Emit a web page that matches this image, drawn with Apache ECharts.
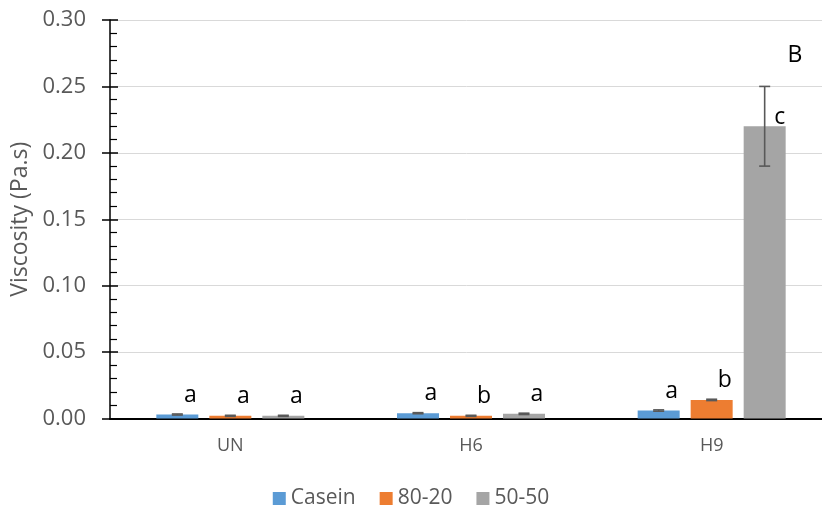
<!DOCTYPE html>
<html>
<head>
<meta charset="utf-8">
<script src="https://cdn.jsdelivr.net/npm/echarts@6/dist/echarts.min.js"></script>
<style>
  html, body { margin: 0; padding: 0; background: #fff; }
  #chart { width: 822px; height: 508px; }
</style>
</head>
<body>
<div id="chart"></div>
<script>
// Viscosity by treatment and protein blend
const categories = ['UN', 'H6', 'H9'];
const seriesNames = ['Casein', '80-20', '50-50'];

const caseinValues = [0.003, 0.004, 0.006];
const blend8020Values = [0.002, 0.002, 0.014];
const blend5050Values = [0.002, 0.0035, 0.22];

const caseinErrors = [0.0004, 0.0004, 0.0005];
const blend8020Errors = [0.0004, 0.0004, 0.0005];
const blend5050Errors = [0.0004, 0.0005, 0.03];

const caseinLetters = ['a', 'a', 'a'];
const blend8020Letters = ['a', 'b', 'b'];
const blend5050Letters = ['a', 'a', 'c'];

const groupLetter = 'B';

const yMin = 0, yMax = 0.30, yStep = 0.05;

const colors = ['#5B9BD5', '#ED7D31', '#A5A5A5'];
const FONT = '"Open Sans", "Noto Sans", sans-serif';
const BAR_W = 42, BAR_GAP = 11;

const values = [caseinValues, blend8020Values, blend5050Values];
const errors = [caseinErrors, blend8020Errors, blend5050Errors];
const letters = [caseinLetters, blend8020Letters, blend5050Letters];

const chart = echarts.init(document.getElementById('chart'), null, { renderer: 'canvas' });

// Letter sits above the bar; beside a long error bar it drops next to the whisker
const letterLabel = (i, k) => {
  const tall = errors[i][k] > 0.01;
  return {
    show: true,
    position: 'top',
    distance: 5,
    offset: tall ? [15, 8] : [13, -3],
    fontFamily: FONT,
    fontSize: 23,
    lineHeight: 23,
    color: '#000',
    formatter: () => letters[i][k]
  };
};

const barSeries = seriesNames.map((name, i) => ({
  name: name,
  type: 'bar',
  xAxisIndex: 0,
  yAxisIndex: 0,
  barWidth: BAR_W,
  barGap: (BAR_GAP / BAR_W * 100).toFixed(1) + '%',
  itemStyle: { color: colors[i] },
  data: values[i].map((v, k) => ({ value: v, label: letterLabel(i, k) })),
  z: 2
}));

const errorSeries = seriesNames.map((name, i) => ({
  type: 'custom',
  xAxisIndex: 0,
  yAxisIndex: 0,
  silent: true,
  z: 5,
  data: values[i].map((v, k) => [k, v, errors[i][k]]),
  renderItem: (params, api) => {
    const off = (i - 1) * (BAR_W + BAR_GAP);
    const cx = api.coord([api.value(0), api.value(1)])[0] + off;
    const hi = api.coord([api.value(0), api.value(1) + api.value(2)])[1];
    const lo = api.coord([api.value(0), api.value(1) - api.value(2)])[1];
    const cap = 5.5;
    const style = { stroke: '#595959', lineWidth: 1.6 };
    return {
      type: 'group',
      children: [
        { type: 'line', shape: { x1: cx, y1: hi, x2: cx, y2: lo }, style },
        { type: 'line', shape: { x1: cx - cap, y1: hi, x2: cx + cap, y2: hi }, style },
        { type: 'line', shape: { x1: cx - cap, y1: lo, x2: cx + cap, y2: lo }, style }
      ]
    };
  }
}));

const option = {
  animation: false,
  backgroundColor: '#fff',
  color: colors,
  grid: {
    left: 110, width: 722, top: 20, bottom: 89.5,
    containLabel: false,
    outerBoundsMode: 'none'
  },
  legend: {
    data: seriesNames,
    top: 483,
    left: 'center',
    icon: 'rect',
    itemWidth: 13,
    itemHeight: 13,
    itemGap: 24,
    textStyle: { fontFamily: FONT, fontSize: 21, color: '#595959' }
  },
  xAxis: [
    {
      type: 'category',
      data: categories,
      position: 'bottom',
      axisLine: { lineStyle: { color: '#000', width: 2 } },
      axisTick: { show: false },
      axisLabel: { fontFamily: FONT, fontSize: 18, color: '#595959', margin: 18 },
      splitLine: { show: false }
    },
    {
      type: 'category',
      data: categories,
      position: 'top',
      axisLine: { lineStyle: { color: '#000', width: 1.5 } },
      axisTick: { show: false },
      axisLabel: { show: false },
      splitLine: { show: false }
    }
  ],
  yAxis: [
    {
      type: 'value',
      min: yMin,
      max: yMax,
      interval: yStep,
      position: 'left',
      name: 'Viscosity (Pa.s)',
      nameLocation: 'middle',
      nameGap: 77,
      nameTextStyle: { fontFamily: FONT, fontSize: 23, color: '#595959' },
      axisLine: { show: true, lineStyle: { color: '#000', width: 1.5 } },
      axisTick: { show: true, inside: false, length: 8, lineStyle: { color: '#000', width: 1.5 } },
      axisLabel: {
        fontFamily: FONT, fontSize: 22, color: '#595959', margin: 24,
        formatter: v => v.toFixed(2)
      },
      splitLine: { show: true, lineStyle: { color: '#D9D9D9', width: 1 } }
    },
    {
      type: 'value',
      min: yMin,
      max: yMax,
      interval: yStep,
      position: 'left',
      axisLine: { show: false },
      axisTick: { show: true, inside: true, length: 8, lineStyle: { color: '#000', width: 1.5 } },
      minorTick: { show: true, splitNumber: 5, length: 7, lineStyle: { color: '#000', width: 1.2 } },
      axisLabel: { show: false },
      splitLine: { show: false }
    }
  ],
  graphic: [
    {
      type: 'text',
      x: 795,
      y: 55,
      style: {
        text: groupLetter,
        fontFamily: FONT,
        fontSize: 23,
        fill: '#000',
        align: 'center',
        verticalAlign: 'middle'
      }
    }
  ],
  series: barSeries.concat(errorSeries)
};

chart.setOption(option);
</script>
</body>
</html>
